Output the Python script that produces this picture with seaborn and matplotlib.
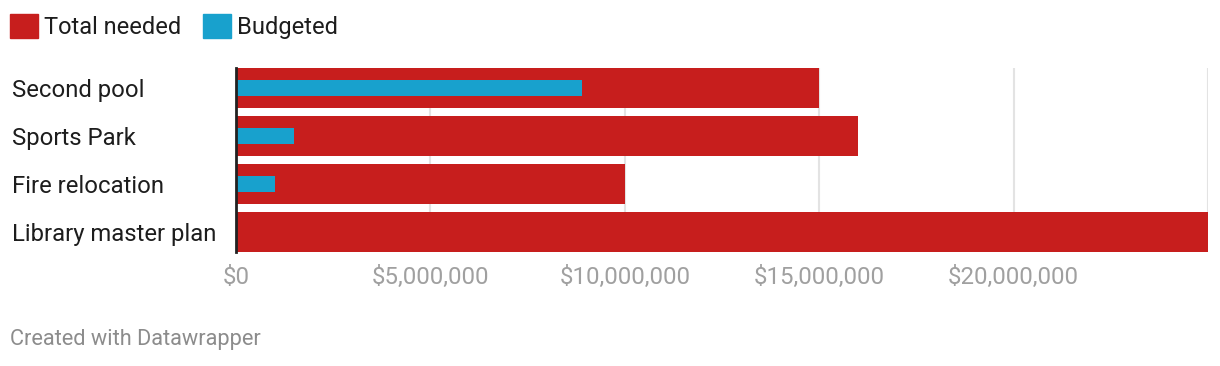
import pandas as pd
import seaborn as sns
import matplotlib.pyplot as plt
from matplotlib.patches import Patch

# dados do gráfico
projetos = ["Second pool", "Sports Park", "Fire relocation", "Library master plan"]
total_necessario = [15_000_000, 16_000_000, 10_000_000, 25_000_000]
orcado = [8_900_000, 1_500_000, 1_000_000, 0]
ticks_x = [0, 5_000_000, 10_000_000, 15_000_000, 20_000_000, 25_000_000]
rotulos_x = ["$0", "$5,000,000", "$10,000,000", "$15,000,000", "$20,000,000", ""]

VERMELHO = "#c71e1d"
AZUL = "#18a1cd"

df = pd.DataFrame({"projeto": projetos, "total": total_necessario, "orcado": orcado})

sns.set_theme(style="white")
plt.rcParams["font.family"] = ["Roboto", "DejaVu Sans"]

W, H = 1220, 366
fig = plt.figure(figsize=(W / 100, H / 100), dpi=100)
ax = fig.add_axes([236 / W, 1 - 252 / H, (1208 - 236) / W, (252 - 68) / H])

sns.barplot(data=df, y="projeto", x="total", color=VERMELHO, width=40 / 48,
            saturation=1, linewidth=0, ax=ax, zorder=2)
sns.barplot(data=df, y="projeto", x="orcado", color=AZUL, width=16 / 48,
            saturation=1, linewidth=0, ax=ax, zorder=3)

ax.set_xlim(0, 25_000_000)
ax.set_ylim(3 + 20 / 48, -20 / 48)
ax.set_xlabel("")
ax.set_ylabel("")

ax.set_xticks(ticks_x)
ax.set_xticklabels(rotulos_x, fontsize=17.3, color="#a0a0a0")
ax.tick_params(axis="x", length=0, pad=10)
ax.tick_params(axis="y", length=0, pad=161, labelsize=17.2, labelcolor="#1d1d1d")
for lbl in ax.get_yticklabels():
    lbl.set_ha("left")

ax.grid(axis="x", color="#e3e3e3", linewidth=1.5, zorder=0)
ax.set_axisbelow(True)
for lado in ["top", "right", "bottom"]:
    ax.spines[lado].set_visible(False)
ax.spines["left"].set_color("#222222")
ax.spines["left"].set_linewidth(2)
ax.spines["left"].set_zorder(5)

handles = [Patch(color=VERMELHO, label="Total needed"), Patch(color=AZUL, label="Budgeted")]
fig.legend(handles=handles, loc="upper left", bbox_to_anchor=(10 / W, 1 - 14 / H),
           ncol=2, frameon=False, fontsize=17, handlelength=1.18, handleheight=1.18,
           handletextpad=0.28, columnspacing=0.9, borderpad=0, borderaxespad=0,
           labelcolor="#1d1d1d")

fig.text(10 / W, 1 - 340 / H, "Created with Datawrapper", fontsize=15.7,
         color="#8c8c8c", va="center", ha="left")

fig.savefig("out.png", dpi=100, facecolor="white")
